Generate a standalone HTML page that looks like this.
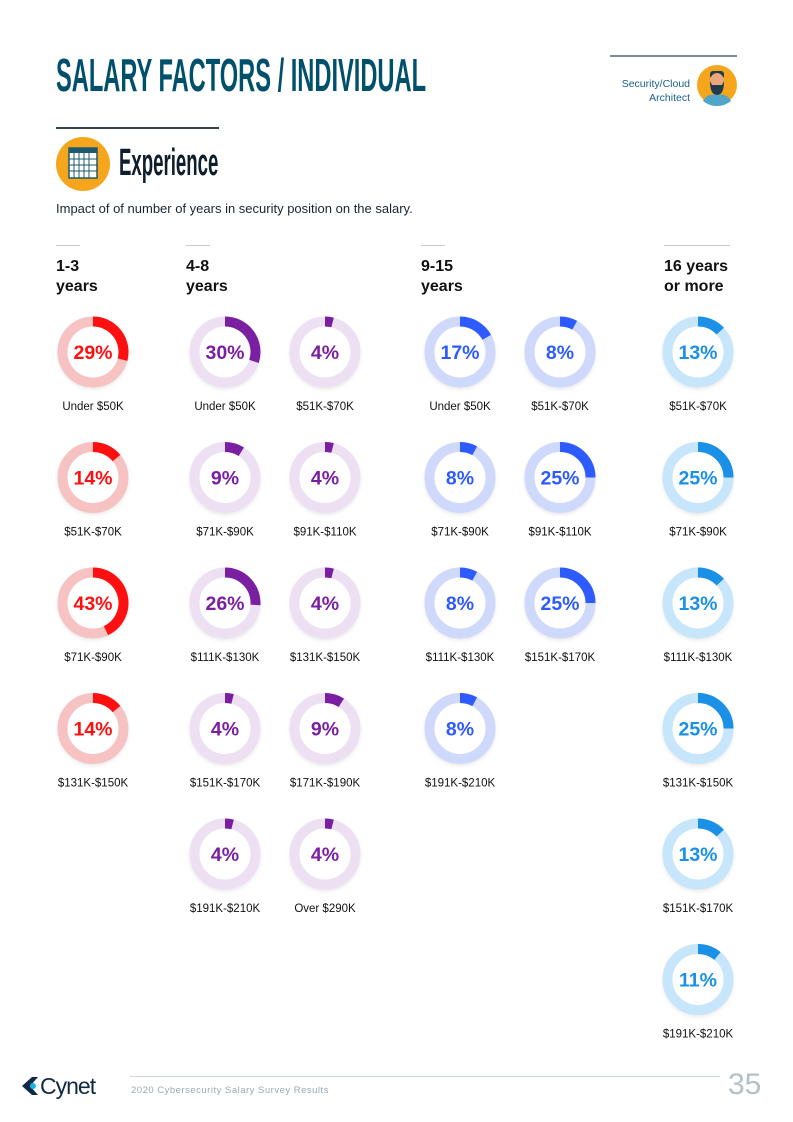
<!DOCTYPE html>
<html><head><meta charset="utf-8">
<style>
body{margin:0;background:#fff;}
#page{position:relative;width:793px;height:1122px;overflow:hidden;background:#fff;font-family:"Liberation Sans",sans-serif;}
.abs{position:absolute;}
</style></head>
<body>
<div id="page">
<div class="abs" style="left:56px;top:52px;font-size:46px;font-weight:bold;color:#00506b;transform:scaleX(0.514);transform-origin:left top;white-space:nowrap;line-height:46px;">SALARY FACTORS / INDIVIDUAL</div>
<div class="abs" style="left:610px;top:55px;width:127px;height:2px;background:#7f8c94;"></div>
<div class="abs" style="left:590px;top:77px;width:100px;text-align:right;font-size:10.5px;line-height:14px;color:#1a5e86;">Security/Cloud<br>Architect</div>
<svg class="abs" style="left:697px;top:65px" width="42" height="42">
<circle cx="20" cy="20" r="20" fill="#f5a61d"/>
<rect x="13" y="6" width="14" height="8" rx="3" fill="#1e3a4c"/>
<ellipse cx="20" cy="16" rx="7" ry="8" fill="#e9a77c"/>
<path d="M13 16 Q13 30 20 30 Q27 30 27 16 L25 20 L15 20Z" fill="#1e3a4c"/>
<path d="M6 36 Q10 28 20 30 Q30 28 34 36 Q28 41 20 41 Q12 41 6 36Z" fill="#4fa6c8"/>
</svg>
<div class="abs" style="left:56px;top:127px;width:163px;height:1.5px;background:#33434d;"></div>
<svg class="abs" style="left:56px;top:137px" width="54" height="54">
<circle cx="27" cy="27" r="27" fill="#f5a61d"/>
<rect x="13" y="11" width="28" height="30" fill="#fff" stroke="#1e5a6e" stroke-width="1.5"/>
<rect x="13" y="11" width="28" height="5" fill="#1e5a6e"/>
<g stroke="#1e5a6e" stroke-width="1"><line x1="18" y1="16" x2="18" y2="41"/><line x1="23" y1="16" x2="23" y2="41"/><line x1="28" y1="16" x2="28" y2="41"/><line x1="33" y1="16" x2="33" y2="41"/><line x1="13" y1="22" x2="41" y2="22"/><line x1="13" y1="28" x2="41" y2="28"/><line x1="13" y1="34" x2="41" y2="34"/></g>
</svg>
<div class="abs" style="left:119px;top:143px;font-size:38px;font-weight:bold;color:#0f1e2c;transform:scaleX(0.49);transform-origin:left top;white-space:nowrap;line-height:40px;">Experience</div>
<div class="abs" style="left:56px;top:201px;font-size:13px;color:#1a2530;">Impact of of number of years in security position on the salary.</div>
<svg id="chart" class="abs" style="left:0;top:0" width="793" height="1060">
<defs><filter id="sh" x="-30%" y="-30%" width="160%" height="160%"><feGaussianBlur stdDeviation="2.5"/></filter></defs>
</svg>
<svg class="abs" style="left:20px;top:1073px" width="95" height="26">
<path d="M12 4 L2 13 L12 22 L18 22 L10 13 L18 4Z" fill="#0f2a44"/><circle cx="13" cy="13" r="3" fill="#19b3e6"/>
<text x="20" y="21" font-family="Liberation Sans, sans-serif" font-size="23" fill="#0f2a44" letter-spacing="-1">Cynet</text>
</svg>
<div class="abs" style="left:130px;top:1076px;width:590px;height:1px;background:#cfd8e0;"></div>
<div class="abs" style="left:131px;top:1085px;font-size:9.5px;color:#9aa8b4;letter-spacing:0.5px;">2020 Cybersecurity Salary Survey Results</div>
<div class="abs" style="left:728px;top:1068px;font-size:30px;color:#b5c0c8;">35</div>
</div>
<script>
const groupNames=["1-3<br>years","4-8<br>years","9-15<br>years","16 years<br>or more"];
const groupX=[56,186,421,664];
const colGroup=[0,1,1,2,2,3];
const colX=[93,225,325,460,560,698];
const colColor=["#ff1010","#7b1fa2","#2d5bff","#1a90e6"];
const colTrack=["#f6c2c2","#eee0f3","#cfd9fb","#c7e6fb"];
const values=[
[29,14,43,14],
[30,9,26,4,4],
[4,4,4,9,4],
[17,8,8,8],
[8,25,25],
[13,25,13,25,13,11]];
const labels=[
["Under $50K","$51K-$70K","$71K-$90K","$131K-$150K"],
["Under $50K","$71K-$90K","$111K-$130K","$151K-$170K","$191K-$210K"],
["$51K-$70K","$91K-$110K","$131K-$150K","$171K-$190K","Over $290K"],
["Under $50K","$71K-$90K","$111K-$130K","$191K-$210K"],
["$51K-$70K","$91K-$110K","$151K-$170K"],
["$51K-$70K","$71K-$90K","$111K-$130K","$131K-$150K","$151K-$170K","$191K-$210K"]];
const row0=352, rowStep=125.5, R=30.5, W=10;
const NS="http://www.w3.org/2000/svg";
const svg=document.getElementById('chart');
const page=document.getElementById('page');
groupNames.forEach((g,i)=>{
  const l=document.createElement('div');
  l.className='abs';
  
  
  l.style.cssText=`left:${groupX[i]}px;top:245px;width:${i==3?66:24}px;height:1px;background:#ccc;`;
  page.appendChild(l);
  const t=document.createElement('div');
  t.className='abs';
  
  
  t.style.cssText=`left:${groupX[i]}px;top:257px;font-size:16px;font-weight:bold;line-height:20px;color:#111;`;
  t.innerHTML=g;
  page.appendChild(t);
});
function el(n,a){const e=document.createElementNS(NS,n);for(const k in a)e.setAttribute(k,a[k]);return e;}
values.forEach((col,c)=>{
  const cx=colX[c], gi=colGroup[c];
  col.forEach((v,r)=>{
    const cy=row0+r*rowStep;
    const g=el('g',{});
    
    
    g.appendChild(el('circle',{cx:cx,cy:cy+2,r:R+4,fill:'#000',opacity:0.12,filter:'url(#sh)'}));
    g.appendChild(el('circle',{cx:cx,cy:cy,r:R+W/2,fill:'#fff'}));
    g.appendChild(el('circle',{cx:cx,cy:cy,r:R,fill:'none',stroke:colTrack[gi],'stroke-width':W}));
    const a=v/100*2*Math.PI;
    const x2=cx+R*Math.sin(a), y2=cy-R*Math.cos(a);
    const arc=el('path',{d:`M${cx} ${cy-R} A${R} ${R} 0 ${v>50?1:0} 1 ${x2.toFixed(2)} ${y2.toFixed(2)}`,fill:'none',stroke:colColor[gi],'stroke-width':W});
    
    
    g.appendChild(arc);
    const t=el('text',{x:cx,y:cy+7,'text-anchor':'middle','font-family':'Liberation Sans, sans-serif','font-size':19.5,'font-weight':'bold',fill:colColor[gi]});
    t.textContent=v+'%';
    
    
    g.appendChild(t);
    const lb=el('text',{x:cx,y:cy+58,'text-anchor':'middle','font-family':'Liberation Sans, sans-serif','font-size':11.5,fill:'#111'});
    lb.textContent=labels[c][r];
    
    
    g.appendChild(lb);
    svg.appendChild(g);
  });
});
</script>
</body></html>
